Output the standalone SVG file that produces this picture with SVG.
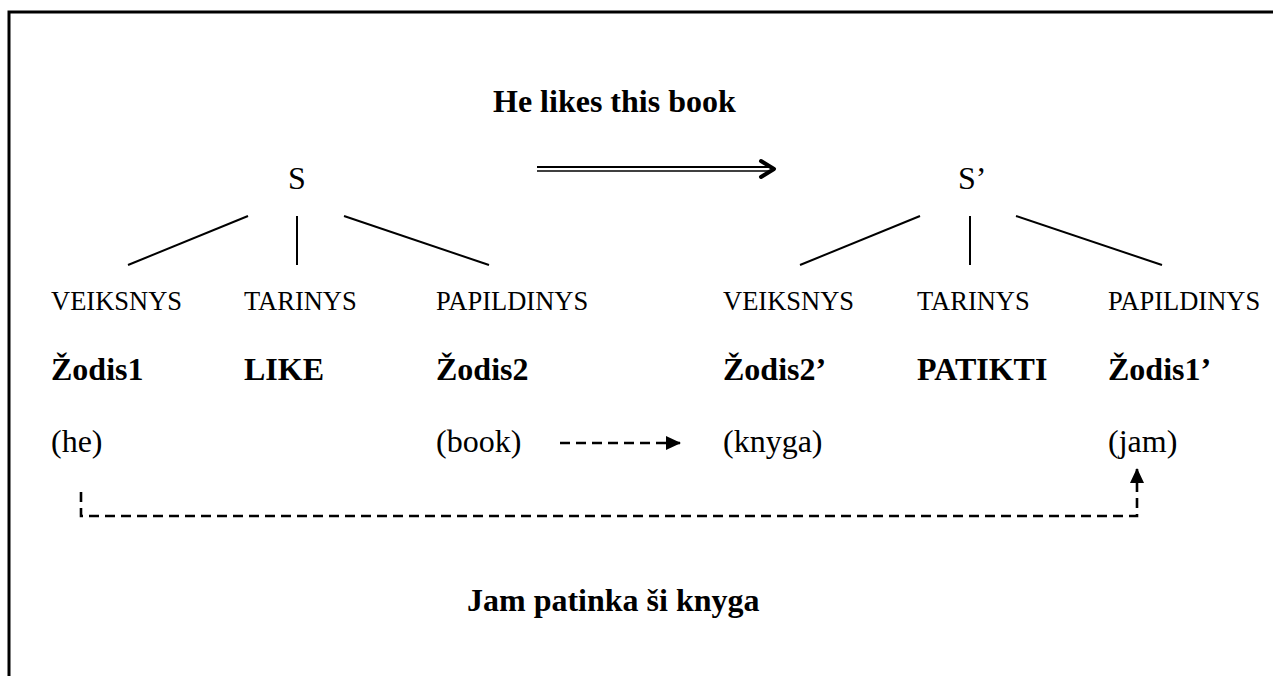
<svg xmlns="http://www.w3.org/2000/svg" width="1273" height="676" viewBox="0 0 1273 676">
  <style>
    text { font-family: "Liberation Serif", "Times New Roman", serif; fill: #000; }
    .title { font-size: 32px; font-weight: bold; }
    .root { font-size: 32px; }
    .role { font-size: 26.5px; }
    .word { font-size: 32px; font-weight: bold; }
    .gloss { font-size: 32px; }
    .edge { stroke: #000; stroke-width: 2; fill: none; }
    .dash { stroke: #000; stroke-width: 2.6; fill: none; stroke-dasharray: 10 6; }
  </style>
  <defs>
    <marker id="tri" viewBox="0 0 15 14" refX="14" refY="7" markerWidth="15" markerHeight="14" markerUnits="userSpaceOnUse" orient="auto">
      <path d="M0,0 L15,7 L0,14 Z" fill="#000"/>
    </marker>
  </defs>
  <rect width="1273" height="676" fill="#fff"/>

  <!-- frame: top and left edges -->
  <path d="M1273,12 H9 V676" stroke="#000" stroke-width="3" fill="none"/>

  <text class="title" x="493" y="112">He likes this book</text>

  <g id="tree-source">
    <g id="node-S"><text class="root" x="288" y="189">S</text></g>
    <g id="node-veiksnys"><text class="role" x="51" y="310">VEIKSNYS</text><text class="word" x="51" y="380">Žodis1</text><text class="gloss" x="51" y="452">(he)</text></g>
    <g id="node-tarinys"><text class="role" x="244" y="310">TARINYS</text><text class="word" x="244" y="380">LIKE</text></g>
    <g id="node-papildinys"><text class="role" x="436" y="310">PAPILDINYS</text><text class="word" x="436" y="380">Žodis2</text><text class="gloss" x="436" y="452">(book)</text></g>
  </g>

  <g id="tree-target">
    <g id="node-S2"><text class="root" x="958" y="189">S’</text></g>
    <g id="node-veiksnys2"><text class="role" x="723" y="310">VEIKSNYS</text><text class="word" x="723" y="380">Žodis2’</text><text class="gloss" x="723" y="452">(knyga)</text></g>
    <g id="node-tarinys2"><text class="role" x="917" y="310">TARINYS</text><text class="word" x="917" y="380">PATIKTI</text></g>
    <g id="node-papildinys2"><text class="role" x="1108" y="310">PAPILDINYS</text><text class="word" x="1108" y="380">Žodis1’</text><text class="gloss" x="1108" y="452">(jam)</text></g>
  </g>

  <text class="title" x="467" y="611">Jam patinka ši knyga</text>

  <g id="connectors">
    <!-- tree branches -->
    <line class="edge" x1="248" y1="216" x2="128" y2="265"/>
    <line class="edge" x1="297" y1="216" x2="297" y2="265"/>
    <line class="edge" x1="344" y1="216" x2="489" y2="265"/>
    <line class="edge" x1="920" y1="216" x2="800" y2="265"/>
    <line class="edge" x1="970" y1="216" x2="970" y2="265"/>
    <line class="edge" x1="1016" y1="216" x2="1162" y2="265"/>
    <!-- transformation arrow (double shaft) -->
    <line x1="537" y1="167" x2="772" y2="167" stroke="#000" stroke-width="2"/>
    <line x1="537" y1="171" x2="772" y2="171" stroke="#000" stroke-width="1.5"/>
    <polyline points="761,161 774,169 761,177" stroke="#000" stroke-width="4" fill="none" stroke-linecap="round" stroke-linejoin="round"/>
    <!-- book to knyga -->
    <line class="dash" x1="560" y1="443" x2="680" y2="443" marker-end="url(#tri)"/>
    <!-- he to jam -->
    <polyline class="dash" points="81,492 81,516 1137,516 1137,469" marker-end="url(#tri)"/>
  </g>
</svg>
